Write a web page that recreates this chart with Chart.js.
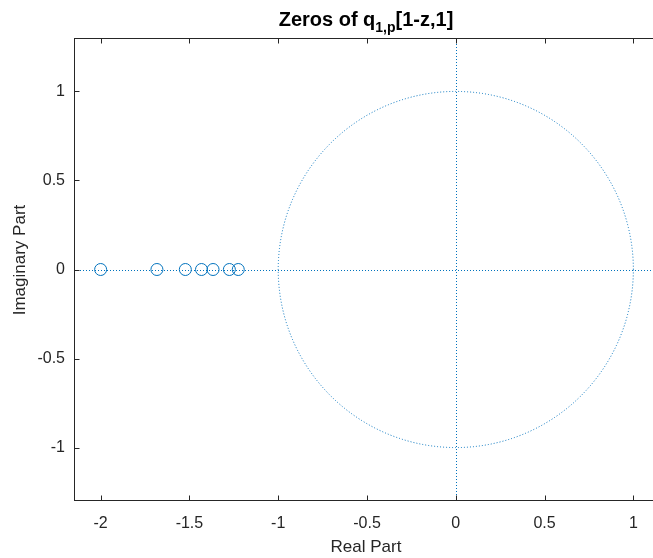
<!DOCTYPE html>
<html>
<head>
<meta charset="utf-8">
<script src="https://cdn.jsdelivr.net/npm/chart.js@4/dist/chart.umd.min.js"></script>
<style>
  html, body { margin: 0; padding: 0; background: #fff; overflow: hidden; }
  #wrap { width: 653px; height: 558px; position: relative; overflow: hidden; }
  #wrap canvas { display: block; }
</style>
</head>
<body>
<!-- холст шире окна: правая граница осей уходит за край, как в оригинале -->
<div id="wrap"><canvas id="zplane" width="667" height="558"></canvas></div>
<script>
// ──────────────────────────────────────────────
// Данные
// ──────────────────────────────────────────────
const zeroRe = [-2.0, -1.683, -1.523, -1.432, -1.367, -1.275, -1.225];
const zeroIm = [0, 0, 0, 0, 0, 0, 0];

const xTicks = [-2, -1.5, -1, -0.5, 0, 0.5, 1];
const yTicks = [-1, -0.5, 0, 0.5, 1];
const xLimits = [-2.15, 1.15];
const yLimits = [-1.3, 1.3];
const unitRadius = 1;

const BLUE = '#0072BD';
const INK  = '#262626';
const FONT = '"Liberation Sans", Arial, Helvetica, sans-serif';

// ──────────────────────────────────────────────
// Рамка, внутренние засечки, подписи и единичная окружность
// ──────────────────────────────────────────────
const decorPlugin = {
    id: 'decor',
    beforeDatasetsDraw(chart) {
        const { ctx, chartArea: a, scales: { x, y } } = chart;
        ctx.save();
        ctx.strokeStyle = BLUE;
        ctx.lineWidth = 1;
        ctx.setLineDash([1, 2]);
        // единичная окружность
        const cx = x.getPixelForValue(0), cy = y.getPixelForValue(0);
        const rx = x.getPixelForValue(unitRadius) - cx;
        const ry = cy - y.getPixelForValue(unitRadius);
        ctx.beginPath();
        ctx.ellipse(cx, cy, rx, ry, 0, 0, Math.PI * 2);
        ctx.stroke();
        // оси Re и Im
        ctx.beginPath();
        ctx.moveTo(a.left, Math.round(cy) + 0.5); ctx.lineTo(a.right, Math.round(cy) + 0.5);
        ctx.moveTo(Math.round(cx) + 0.5, a.top); ctx.lineTo(Math.round(cx) + 0.5, a.bottom);
        ctx.stroke();
        ctx.restore();
    },
    afterDraw(chart) {
        const { ctx, chartArea: a, scales: { x, y } } = chart;
        const L = Math.round(a.left) + 0.5, R = Math.round(a.right) - 0.5;
        const T = Math.round(a.top) + 0.5, B = Math.round(a.bottom) - 0.5;
        ctx.save();
        ctx.strokeStyle = INK;
        ctx.lineWidth = 1;
        ctx.strokeRect(L, T, R - L, B - T);
        const tl = 5;
        ctx.beginPath();
        xTicks.forEach(v => {
            const px = Math.round(x.getPixelForValue(v)) + 0.5;
            ctx.moveTo(px, B); ctx.lineTo(px, B - tl);
            ctx.moveTo(px, T); ctx.lineTo(px, T + tl);
        });
        yTicks.forEach(v => {
            const py = Math.round(y.getPixelForValue(v)) + 0.5;
            ctx.moveTo(L, py); ctx.lineTo(L + tl, py);
            ctx.moveTo(R, py); ctx.lineTo(R - tl, py);
        });
        ctx.stroke();

        // подписи осей
        ctx.fillStyle = INK;
        ctx.font = '17px ' + FONT;
        ctx.textAlign = 'center';
        ctx.textBaseline = 'alphabetic';
        ctx.fillText('Real Part', 366, 552);
        ctx.save();
        ctx.translate(25, 260);
        ctx.rotate(-Math.PI / 2);
        ctx.fillText('Imaginary Part', 0, 0);
        ctx.restore();

        // заголовок с нижним индексом
        ctx.fillStyle = '#000';
        const main = 'bold 20px ' + FONT, sub = 'bold 14px ' + FONT;
        const parts = [['Zeros of q', main, 0], ['1,p', sub, 6], ['[1-z,1]', main, 0]];
        let w = 0;
        parts.forEach(p => { ctx.font = p[1]; w += ctx.measureText(p[0]).width; });
        let px = 366 - w / 2;
        ctx.textAlign = 'left';
        parts.forEach(p => {
            ctx.font = p[1];
            ctx.fillText(p[0], px, 26 + p[2]);
            px += ctx.measureText(p[0]).width;
        });
        ctx.restore();
    }
};

// ──────────────────────────────────────────────
// График
// ──────────────────────────────────────────────
const points = zeroRe.map((re, i) => ({ x: re, y: zeroIm[i] }));

new Chart(document.getElementById('zplane'), {
    type: 'scatter',
    data: {
        datasets: [{
            label: 'Zeros',
            data: points,
            pointStyle: 'circle',
            pointRadius: 6,
            pointHoverRadius: 6,
            pointBackgroundColor: 'rgba(0,0,0,0)',
            pointBorderColor: BLUE,
            pointBorderWidth: 1
        }]
    },
    options: {
        responsive: false,
        animation: false,
        events: [],
        layout: { padding: { top: 38, right: 0, left: 0, bottom: 0 } },
        plugins: { legend: { display: false }, tooltip: { enabled: false }, title: { display: false } },
        scales: {
            x: {
                type: 'linear',
                min: xLimits[0], max: xLimits[1],
                afterBuildTicks: s => { s.ticks = xTicks.map(v => ({ value: v })); },
                afterFit: s => { s.height = 57; s.paddingLeft = 0; s.paddingRight = 0; },
                grid: { display: false, drawTicks: false },
                border: { display: false },
                ticks: { color: INK, font: { family: FONT, size: 16 }, padding: 13, maxRotation: 0,
                         callback: v => String(v) }
            },
            y: {
                type: 'linear',
                min: yLimits[0], max: yLimits[1],
                afterBuildTicks: s => { s.ticks = yTicks.map(v => ({ value: v })); },
                afterFit: s => { s.width = 74; s.paddingTop = 0; s.paddingBottom = 0; },
                grid: { display: false, drawTicks: false },
                border: { display: false },
                ticks: { color: INK, font: { family: FONT, size: 16 }, padding: 9,
                         callback: v => String(v) }
            }
        }
    },
    plugins: [decorPlugin]
});
</script>
</body>
</html>
